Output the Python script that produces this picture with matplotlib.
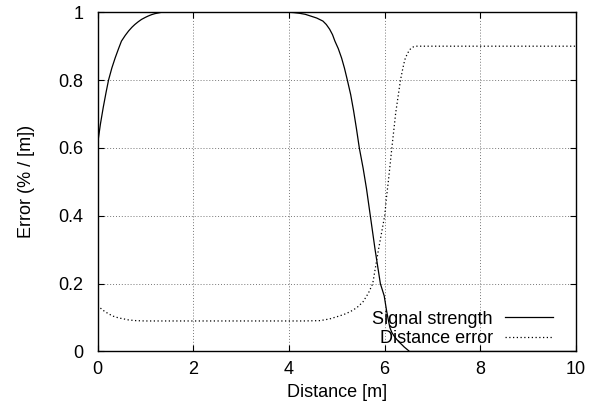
import matplotlib
matplotlib.use("Agg")
import matplotlib.pyplot as plt

plt.rcParams['font.family'] = ['Liberation Sans', 'DejaVu Sans']

# Signal strength curve
signal_x = [0.0, 0.06, 0.12, 0.18, 0.23, 0.30, 0.37, 0.44, 0.50, 0.58, 0.65, 0.72, 0.78, 0.85,
            0.92, 1.0, 1.06, 1.13, 1.20, 1.27, 1.34, 2.0, 3.0, 4.0,
            4.1, 4.22, 4.34, 4.45, 4.58, 4.71, 4.78, 4.85, 4.91, 4.96, 5.03, 5.10, 5.16, 5.22,
            5.29, 5.35, 5.41, 5.47, 5.55, 5.62, 5.70, 5.80,
            5.91, 5.99, 6.04, 6.08, 6.11, 6.15, 6.20, 6.25, 6.30, 6.36, 6.41, 6.47, 6.52, 8.0, 10.0]
signal_y = [0.61, 0.67, 0.72, 0.765, 0.80, 0.836, 0.866, 0.893, 0.915, 0.932, 0.945, 0.956, 0.964, 0.972,
            0.979, 0.985, 0.989, 0.993, 0.996, 0.998, 1.0, 1.0, 1.0, 1.0,
            0.999, 0.997, 0.994, 0.989, 0.983, 0.974, 0.964, 0.950, 0.934, 0.915, 0.893, 0.865, 0.835, 0.80,
            0.757, 0.71, 0.657, 0.60, 0.54, 0.48, 0.40, 0.30,
            0.20, 0.164, 0.12, 0.09, 0.07, 0.056, 0.045, 0.036, 0.028, 0.020, 0.013, 0.006, 0.0, 0.0, 0.0]

# Distance error curve
dist_x = [0.0, 0.12, 0.23, 0.33, 0.44, 0.55, 0.65, 0.80, 0.99, 2.0, 3.0, 4.0, 4.3, 4.65,
          4.85, 5.06, 5.20, 5.34, 5.45, 5.55, 5.66, 5.75, 5.87, 6.00, 6.04, 6.08,
          6.15, 6.23, 6.33, 6.38, 6.42, 6.47, 6.52, 6.56, 6.60, 6.66, 8.0, 10.0]
dist_y = [0.135, 0.121, 0.111, 0.104, 0.099, 0.096, 0.093, 0.091, 0.090, 0.09, 0.09, 0.09, 0.09, 0.091,
          0.096, 0.105, 0.112, 0.122, 0.133, 0.147, 0.172, 0.20, 0.30, 0.40, 0.457, 0.506,
          0.60, 0.703, 0.80, 0.835, 0.86, 0.877, 0.889, 0.895, 0.898, 0.90, 0.90, 0.90]

series_labels = ["Signal strength", "Distance error"]
x_ticks = [0, 2, 4, 6, 8, 10]
y_ticks = [0, 0.2, 0.4, 0.6, 0.8, 1]
y_tick_labels = ["0", "0.2", "0.4", "0.6", "0.8", "1"]
x_label = "Distance [m]"
y_label = "Error (% / [m])"

fig = plt.figure(figsize=(6.02, 4.09), dpi=100)
ax = fig.add_axes([0.162, 0.1406, 0.795, 0.8294])

ax.plot(signal_x, signal_y, color='black', lw=0.9, label=series_labels[0])
ax.plot(dist_x, dist_y, color='black', lw=0.9, linestyle=(0, (1, 2)), label=series_labels[1])

ax.set_xlim(0, 10)
ax.set_ylim(0, 1)
ax.set_xticks(x_ticks)
ax.set_xticklabels([str(t) for t in x_ticks])
ax.set_yticks(y_ticks)
ax.set_yticklabels(y_tick_labels)

ax.grid(True, color='#777777', linestyle=(0, (1, 2)), linewidth=0.7)
ax.tick_params(direction='in', top=True, right=True, length=4, width=0.8,
               labelsize=13)
ax.tick_params(axis='y', pad=10)
ax.tick_params(axis='x', pad=7)
for s in ax.spines.values():
    s.set_linewidth(1.0)
    s.set_color('black')

ax.set_xlabel(x_label, fontsize=13, labelpad=4)
ax.set_ylabel(y_label, fontsize=13, labelpad=17)

leg = ax.legend(loc='lower right', bbox_to_anchor=(0.952, 0.012), markerfirst=False,
                frameon=False, fontsize=13, handlelength=2.67, handletextpad=0.67,
                labelspacing=0.15, borderpad=0, borderaxespad=0)

fig.savefig("out.png", dpi=100)
